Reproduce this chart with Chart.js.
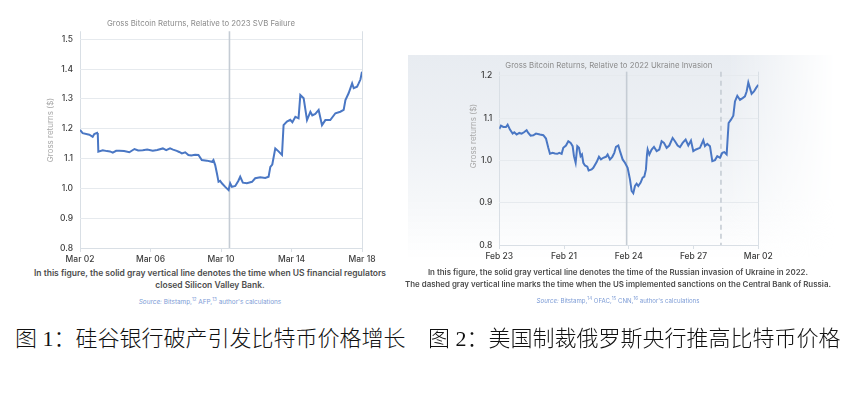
<!DOCTYPE html>
<html lang="zh">
<head>
<meta charset="UTF-8" />
<title>Gross Bitcoin Returns</title>
<script src="https://cdn.jsdelivr.net/npm/chart.js"></script>
<style>
    body { margin: 0; width: 852px; height: 393px; background: #fff; position: relative; overflow: hidden; font-family: Inter, "Noto Sans", sans-serif; }
    canvas { position: absolute; top: 0; }
    #svbChart { left: 0; }
    #ukrChart { left: 430px; }
    .bg {
        position: absolute; left: 408px; top: 55px; width: 427px; height: 205px;
        background: linear-gradient(180deg, #e8ecf1 0%, #eef1f5 40%, #f5f7f9 70%, rgba(255,255,255,0) 100%);
        -webkit-mask-image: linear-gradient(to right, #000 0%, #000 75%, transparent 100%);
        mask-image: linear-gradient(to right, #000 0%, #000 75%, transparent 100%);
    }
    .caption { position: absolute; transform: translateX(-50%); text-align: center; white-space: nowrap;
        font-weight: 600; color: #4d4d4d; line-height: 11.7px; }
    .source { position: absolute; transform: translateX(-50%); white-space: nowrap; color: #7d9cd6; }
    .source sup { font-size: 4.5px; }
    .fig { position: absolute; top: 320px; font-family: "Liberation Serif", "Noto Sans CJK SC", serif; font-size: 22px; font-weight: 300; color: #111; white-space: nowrap; }
</style>
</head>
<body>
<div class="bg"></div>
<canvas id="svbChart" width="440" height="268"></canvas>
<canvas id="ukrChart" width="388" height="265"></canvas>

<div class="caption" style="left:210px; top:268px; font-size:8.5px;">In this figure, the solid gray vertical line denotes the time when US financial regulators<br>closed Silicon Valley Bank.</div>
<div class="source" style="left:210px; top:297px; font-size:6.4px;"><i>Source:</i> Bitstamp,<sup>12</sup> AFP,<sup>13</sup> author's calculations</div>

<div class="caption" style="left:618px; top:267px; font-size:7.9px;">In this figure, the solid gray vertical line denotes the time of the Russian invasion of Ukraine in 2022.<br>The dashed gray vertical line marks the time when the US implemented sanctions on the Central Bank of Russia.</div>
<div class="source" style="left:618px; top:296px; font-size:6.1px;"><i>Source:</i> Bitstamp,<sup>14</sup> OFAC,<sup>15</sup> CNN,<sup>16</sup> author's calculations</div>

<div class="fig" style="left:15px;">图 1：硅谷银行破产引发比特币价格增长</div>
<div class="fig" style="left:428px;">图 2：美国制裁俄罗斯央行推高比特币价格</div>

<script>
// SVB chart: days since Mar 02, gross returns
const svbDays = [0, 0.15, 0.53, 0.72, 0.81, 0.97, 1.01, 1.04, 1.29, 1.53, 1.70, 1.86, 2.05, 2.23, 2.5, 2.80, 3.09, 3.30, 3.56, 3.81,
    4.13, 4.38, 4.70, 4.89, 5.11, 5.28, 5.49, 5.63, 5.78, 5.97, 6.15, 6.31, 6.53, 6.72, 6.91, 7.20, 7.48, 7.57, 7.67, 7.77,
    7.86, 7.95, 8.05, 8.24, 8.43, 8.52, 8.62, 8.81, 8.98, 9.09, 9.24, 9.47, 9.76, 9.94, 10.23, 10.51, 10.70, 10.80, 10.91, 11.08,
    11.25, 11.46, 11.55, 11.74, 11.93, 12.05, 12.22, 12.40, 12.50, 12.69, 12.88, 13.07, 13.18, 13.35, 13.54, 13.73, 13.92, 14.20, 14.49, 14.77,
    14.96, 15.06, 15.24, 15.44, 15.53, 15.72, 15.81, 15.91, 16.0];
const svbReturns = [1.196, 1.185, 1.180, 1.173, 1.182, 1.186, 1.180, 1.123, 1.128, 1.125, 1.124, 1.120, 1.126, 1.126, 1.125, 1.121, 1.132, 1.127, 1.128, 1.130,
    1.126, 1.129, 1.134, 1.128, 1.134, 1.130, 1.126, 1.122, 1.117, 1.121, 1.112, 1.110, 1.113, 1.112, 1.095, 1.093, 1.089, 1.095, 1.078, 1.050,
    1.022, 1.025, 1.017, 1.005, 0.994, 1.017, 1.005, 1.008, 1.025, 1.039, 1.019, 1.017, 1.022, 1.034, 1.037, 1.035, 1.039, 1.072, 1.080, 1.134,
    1.125, 1.112, 1.212, 1.224, 1.230, 1.222, 1.240, 1.235, 1.313, 1.302, 1.229, 1.257, 1.245, 1.250, 1.263, 1.212, 1.229, 1.229, 1.252, 1.257,
    1.263, 1.296, 1.319, 1.352, 1.336, 1.341, 1.352, 1.365, 1.391];
const svbTickDays = [0, 4, 8, 12, 16];
const svbTickLabels = ["Mar 02", "Mar 06", "Mar 10", "Mar 14", "Mar 18"];
const svbYTicks = [0.8, 0.9, 1.0, 1.1, 1.2, 1.3, 1.4, 1.5];
const svbEventDay = 8.48;

// Ukraine chart: days since first tick, gross returns
const ukrDays = [0, 0.077, 0.185, 0.309, 0.386, 0.494, 0.618, 0.695, 0.803, 0.927, 1.035, 1.143, 1.266, 1.344, 1.452, 1.575, 1.699, 1.884, 2.039, 2.162,
    2.270, 2.347, 2.471, 2.579, 2.687, 2.780, 2.888, 2.965, 3.089, 3.197, 3.305, 3.398, 3.459, 3.537, 3.614, 3.691, 3.768, 3.830, 3.892, 3.969,
    4.077, 4.139, 4.278, 4.355, 4.510, 4.618, 4.710, 4.819, 4.942, 5.019, 5.127, 5.236, 5.328, 5.405, 5.514, 5.591, 5.714, 5.822, 5.946, 6.054,
    6.131, 6.208, 6.286, 6.363, 6.440, 6.548, 6.641, 6.718, 6.795, 6.842, 6.873, 6.950, 7.058, 7.166, 7.290, 7.413, 7.521, 7.629, 7.753, 7.876,
    8.031, 8.139, 8.263, 8.371, 8.494, 8.633, 8.757, 8.880, 8.988, 9.112, 9.297, 9.452, 9.529, 9.637, 9.761, 9.869, 9.992, 10.100, 10.224, 10.332,
    10.425, 10.533, 10.625, 10.734, 10.842, 10.919, 11.027, 11.151, 11.274, 11.382, 11.459, 11.537, 11.614, 11.691, 11.799, 11.892, 12.0];
const ukrReturns = [1.0745, 1.0824, 1.0792, 1.0792, 1.0847, 1.0729, 1.0635, 1.0667, 1.0612, 1.0651, 1.0635, 1.0667, 1.0714, 1.0651, 1.0588, 1.0596, 1.0635, 1.0612, 1.0596, 1.0518,
    1.0298, 1.0157, 1.018, 1.0165, 1.0157, 1.018, 1.0157, 1.0298, 1.0353, 1.0455, 1.0416, 1.0337, 1.0102, 0.9945, 1.0337, 1.0298, 1.0102, 1.0141, 0.9945, 0.9882,
    0.9851, 0.9765, 0.9788, 0.9827, 0.9961, 1.0086, 1.0024, 1.0063, 1.0086, 1.0141, 1.0024, 1.0086, 1.018, 1.0322, 1.0353, 1.022, 1.0024, 0.9945, 0.9827, 0.9553,
    0.9278, 0.9224, 0.9396, 0.9451, 0.9396, 0.9475, 0.9592, 0.9616, 0.9788, 1.0141, 1.0259, 1.0141, 1.0259, 1.0322, 1.022, 1.0259, 1.0455, 1.0416, 1.0298, 1.0353,
    1.0533, 1.0455, 1.0353, 1.0314, 1.0416, 1.0494, 1.0353, 1.0471, 1.022, 1.0259, 1.0298, 1.0478, 1.0337, 1.0392, 1.0337, 0.9984, 1.0008, 1.0102, 1.0063, 1.018,
    1.0196, 1.0141, 1.0886, 1.0965, 1.1059, 1.1396, 1.1529, 1.1435, 1.1475, 1.1514, 1.1631, 1.1843, 1.171, 1.1576, 1.1631, 1.171, 1.1788];
const ukrTickDays = [0, 3, 6, 9, 12];
const ukrTickLabels = ["Feb 23", "Feb 21", "Feb 24", "Feb 27", "Mar 02"];
const ukrYTicks = [0.8, 0.9, 1.0, 1.1, 1.2];
const ukrInvasionDay = 5.9;
const ukrSanctionDay = 10.27;

const LINE_BLUE = "#4a77c4";
const GRID = "#e6eaee";
const EDGE = "#d9dfe5";
const EVENT = "#c5ccd4";

// vertical event lines, drawn under the data
const eventLines = {
    id: "eventLines",
    beforeDatasetsDraw(chart, args, opts) {
        const { ctx, chartArea, scales } = chart;
        ctx.save();
        ctx.strokeStyle = EVENT;
        ctx.lineWidth = 1.6;
        (opts.lines || []).forEach((l) => {
            const x = scales.x.getPixelForValue(l.x);
            ctx.setLineDash(l.dash ? [5, 4] : []);
            ctx.beginPath();
            ctx.moveTo(x, chartArea.top);
            ctx.lineTo(x, chartArea.bottom);
            ctx.stroke();
        });
        ctx.restore();
    },
};

// rotated y-axis title, placed like the original
const yTitle = {
    id: "yTitle",
    afterDraw(chart, args, opts) {
        const { ctx, chartArea } = chart;
        ctx.save();
        ctx.translate(chartArea.left - opts.dx, opts.cy);
        ctx.rotate(-Math.PI / 2);
        ctx.font = "8px Inter";
        ctx.fillStyle = "#a9a9a9";
        ctx.textAlign = "center";
        ctx.textBaseline = "middle";
        ctx.fillText(opts.text, 0, 0);
        ctx.restore();
    },
};

function makeChart(id, cfg) {
    const points = cfg.days.map((d, i) => ({ x: d, y: cfg.values[i] }));
    const lastTick = cfg.tickDays.length - 1;
    return new Chart(document.getElementById(id), {
        type: "line",
        data: {
            datasets: [{
                data: points,
                borderColor: LINE_BLUE,
                borderWidth: 2,
                pointRadius: 0,
                tension: 0,
            }],
        },
        plugins: [eventLines, yTitle],
        options: {
            responsive: false,
            animation: false,
            devicePixelRatio: 1,
            layout: { padding: cfg.padding },
            plugins: {
                legend: { display: false },
                tooltip: { enabled: false },
                title: {
                    display: true,
                    text: cfg.title,
                    color: "#8c8c8c",
                    font: { family: "Inter", size: 7.8, weight: "normal", lineHeight: 1.2 },
                    padding: cfg.titlePadding,
                },
                eventLines: { lines: cfg.events },
                yTitle: { text: "Gross returns ($)", dx: cfg.yTitleDx, cy: cfg.yTitleCy },
            },
            scales: {
                x: {
                    type: "linear",
                    min: cfg.tickDays[0],
                    max: cfg.tickDays[lastTick],
                    afterBuildTicks: (s) => { s.ticks = cfg.tickDays.map((v) => ({ value: v })); },
                    afterFit: (s) => { s.height = 20; },
                    ticks: {
                        callback: (v, i) => cfg.tickLabels[i],
                        color: "#3d3d3d",
                        font: { family: "Inter", size: 8.5, weight: "500" },
                        padding: 2,
                        maxRotation: 0,
                    },
                    grid: {
                        color: (c) => (c.index === 0 || c.index === lastTick ? EDGE : "transparent"),
                        tickColor: EDGE,
                        tickLength: 4,
                    },
                    border: { display: true, color: EDGE },
                },
                y: {
                    min: 0.8,
                    max: cfg.yMax,
                    afterBuildTicks: (s) => { s.ticks = cfg.yTicks.map((v) => ({ value: v })); },
                    afterFit: (s) => { s.width = 40; },
                    ticks: {
                        callback: (v) => v.toFixed(1),
                        color: "#3d3d3d",
                        font: { family: "Inter", size: 8.5, weight: "500" },
                        padding: 7,
                    },
                    grid: { color: GRID, drawTicks: false },
                    border: { display: false },
                },
            },
        },
    });
}

makeChart("svbChart", {
    title: "Gross Bitcoin Returns, Relative to 2023 SVB Failure",
    days: svbDays,
    values: svbReturns,
    tickDays: svbTickDays,
    tickLabels: svbTickLabels,
    yTicks: svbYTicks,
    yMax: 1.527,
    padding: { left: 40, right: 78, top: 0, bottom: 0 },
    titlePadding: { top: 18.6, bottom: 3.3 },
    events: [{ x: svbEventDay }],
    yTitleDx: 29,
    yTitleCy: 130,
});

makeChart("ukrChart", {
    title: "Gross Bitcoin Returns, Relative to 2022 Ukraine Invasion",
    days: ukrDays,
    values: ukrReturns,
    tickDays: ukrTickDays,
    tickLabels: ukrTickLabels,
    yTicks: ukrYTicks,
    yMax: 1.21,
    padding: { left: 29.3, right: 59.7, top: 0, bottom: 0 },
    titlePadding: { top: 60.6, bottom: 1.7 },
    events: [{ x: ukrInvasionDay }, { x: ukrSanctionDay, dash: true }],
    yTitleDx: 25.3,
    yTitleCy: 136,
});
</script>
</body>
</html>
